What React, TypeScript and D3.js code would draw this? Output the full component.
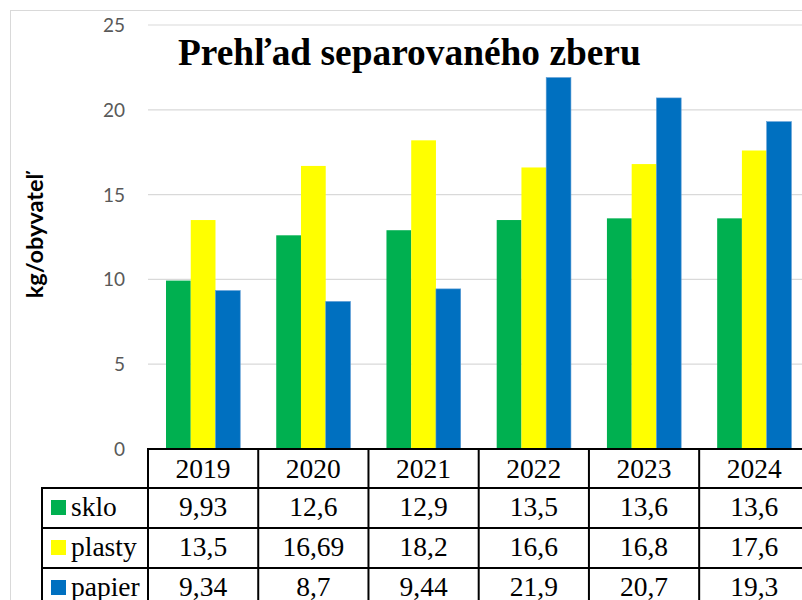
import React from "react";
import * as d3 from "d3";

const years = ["2019", "2020", "2021", "2022", "2023", "2024"];
const seriesNames = ["sklo", "plasty", "papier"];
const sklo = [9.93, 12.6, 12.9, 13.5, 13.6, 13.6];
const plasty = [13.5, 16.69, 18.2, 16.6, 16.8, 17.6];
const papier = [9.34, 8.7, 9.44, 21.9, 20.7, 19.3];
const skloLabels = ["9,93", "12,6", "12,9", "13,5", "13,6", "13,6"];
const plastyLabels = ["13,5", "16,69", "18,2", "16,6", "16,8", "17,6"];
const papierLabels = ["9,34", "8,7", "9,44", "21,9", "20,7", "19,3"];
const yTicks = [0, 5, 10, 15, 20, 25];
const colors = ["#00B050", "#FFFF00", "#0070C0"];
const title = "Prehľad separovaného zberu";
const yTitle = "kg/obyvateľ";

export default function App() {
  const W = 802, H = 600;
  const values = [sklo, plasty, papier];
  const labels = [skloLabels, plastyLabels, papierLabels];
  const x = d3.scaleBand<string>().domain(years).range([148, 809.4]).padding(0);
  const bw = x.bandwidth();
  const xi = d3.scaleBand<string>().domain(seriesNames).range([18, bw - 18]).padding(0);
  const y = d3.scaleLinear().domain([0, 25]).range([449, 25]);
  const rowTops = [449, 488, 528, 568];
  const serif = "'Liberation Serif', 'Times New Roman', serif";
  const sans = "Lato, 'Open Sans', sans-serif";
  const tfs = 27.5;
  return (
    <svg width={W} height={H} style={{ position: "absolute", left: 0, top: 0 }}>
      <rect x={0} y={0} width={W} height={H} fill="#fff" />
      <rect x={10.5} y={10.5} width={W + 20} height={H + 20} fill="none" stroke="#D9D9D9" strokeWidth={1} />
      {yTicks.map((t) => (
        <g key={t}>
          {t > 0 && (
            <line x1={148} x2={W} y1={y(t)} y2={y(t)} stroke="#D9D9D9" strokeWidth={1.2} />
          )}
          <text x={125} y={y(t) + 7} textAnchor="end" fontFamily={sans} fontSize={19} fill="#595959">
            {t}
          </text>
        </g>
      ))}
      {years.map((yr, i) => (
        <g key={yr}>
          {values.map((vals, s) => (
            <rect
              key={s}
              x={(x(yr) as number) + (xi(seriesNames[s]) as number)}
              y={y(vals[i])}
              width={xi.bandwidth()}
              height={y(0) - y(vals[i])}
              fill={colors[s]}
              stroke={s === 2 ? "#5B9BD5" : "none"}
              strokeWidth={0.6}
            />
          ))}
        </g>
      ))}
      <text x={178} y={65} fontFamily={serif} fontWeight="bold" fontSize={37.4} fill="#000">
        {title}
      </text>
      <text
        transform={`translate(43,236) rotate(-90)`}
        textAnchor="middle"
        fontFamily={sans}
        fontWeight="bold"
        fontSize={23.5}
        fill="#000"
      >
        {yTitle}
      </text>
      {/* data table */}
      <g stroke="#000" strokeWidth={2} fill="none">
        <line x1={148} x2={W} y1={449} y2={449} />
        <line x1={42} x2={W} y1={488} y2={488} />
        <line x1={42} x2={W} y1={528} y2={528} />
        <line x1={42} x2={W} y1={568} y2={568} />
        <line x1={42} x2={42} y1={487} y2={H} />
        <line x1={148} x2={148} y1={448} y2={H} />
        {years.map((yr) => (
          <line key={yr} x1={(x(yr) as number) + bw} x2={(x(yr) as number) + bw} y1={448} y2={H} />
        ))}
      </g>
      {years.map((yr) => (
        <text
          key={yr}
          x={(x(yr) as number) + bw / 2}
          y={rowTops[0] + 29}
          textAnchor="middle"
          fontFamily={serif}
          fontSize={tfs}
          fill="#000"
        >
          {yr}
        </text>
      ))}
      {seriesNames.map((name, s) => (
        <g key={name}>
          <rect x={51} y={rowTops[s + 1] + 12} width={15} height={15} fill={colors[s]} />
          <text x={71} y={rowTops[s + 1] + 28} fontFamily={serif} fontSize={tfs} fill="#000">
            {name}
          </text>
          {years.map((yr, i) => (
            <text
              key={yr}
              x={(x(yr) as number) + bw / 2}
              y={rowTops[s + 1] + 28}
              textAnchor="middle"
              fontFamily={serif}
              fontSize={tfs}
              fill="#000"
            >
              {labels[s][i]}
            </text>
          ))}
        </g>
      ))}
    </svg>
  );
}
